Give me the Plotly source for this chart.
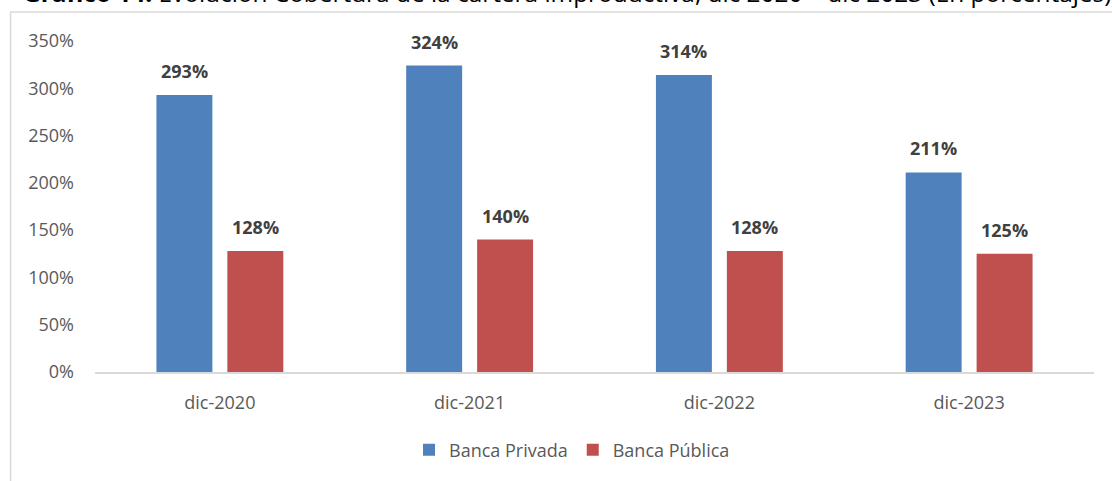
import plotly.graph_objects as go

categories = ["dic-2020", "dic-2021", "dic-2022", "dic-2023"]
banca_privada = [293, 324, 314, 211]
banca_publica = [128, 140, 128, 125]
series_names = ["Banca Privada", "Banca Pública"]
colors = ["#4F81BD", "#C0504D"]
y_ticks = [0, 50, 100, 150, 200, 250, 300, 350]
y_tick_labels = [f"{v}%" for v in y_ticks]
title_bold = "Gráfico 14:"
title_rest = " Evolución Cobertura de la cartera improductiva, dic 2020 – dic 2023 (En porcentajes)"

FONT = "Open Sans"

fig = go.Figure()
for name, vals, col in zip(series_names, [banca_privada, banca_publica], colors):
    fig.add_trace(go.Bar(x=categories, y=vals, name=name, marker=dict(color=col, line=dict(width=0))))

# data labels
slot = 35.5
annotations = []
for i, vals in enumerate([banca_privada, banca_publica]):
    shift = -slot if i == 0 else slot
    for c, v in zip(categories, vals):
        annotations.append(dict(x=c, y=v, xref="x", yref="y", text=f"<b>{v}%</b>",
                                showarrow=False, yanchor="bottom", xanchor="center",
                                xshift=shift, yshift=10,
                                font=dict(family=FONT, size=18, color="#404040")))

annotations.append(dict(xref="paper", yref="paper", x=-0.0745, y=1.091, xanchor="left", yanchor="bottom",
                        text=f"<b>{title_bold}</b>{title_rest}", showarrow=False,
                        font=dict(family=FONT, size=24.4, color="#000000")))

fig.update_layout(
    width=1112, height=481,
    margin=dict(l=94.5, r=17.5, t=40.5, b=108.5),
    paper_bgcolor="white", plot_bgcolor="white",
    barmode="group", bargap=0.432, bargroupgap=0.211,
    font=dict(family=FONT, color="#595959", size=18),
    showlegend=True,
    legend=dict(orientation="h", x=0.4775, xanchor="center", y=-0.236, yanchor="middle",
                font=dict(family=FONT, size=18, color="#595959"), itemwidth=30),
    annotations=annotations,
    shapes=[dict(type="rect", xref="paper", yref="paper",
                 x0=(10 - 94.5) / 1000, x1=(1130 - 94.5) / 1000,
                 y0=(372.5 - 500) / 332, y1=(372.5 - 11.5) / 332,
                 line=dict(color="#D9D9D9", width=1.5), fillcolor="rgba(0,0,0,0)", layer="below")],
)
fig.update_xaxes(showgrid=False, showline=True, linecolor="#D9D9D9", linewidth=1.5,
                 ticks="", tickfont=dict(family=FONT, size=18, color="#595959"),
                 ticklabelstandoff=14)
fig.update_yaxes(range=[0, 350], tickvals=y_ticks, ticktext=y_tick_labels, showgrid=False,
                 zeroline=False, showline=False, ticks="",
                 tickfont=dict(family=FONT, size=18, color="#595959"), ticklabelstandoff=20)

fig.write_html("out.html", config={"displayModeBar": False},
               post_script="document.body.style.margin='0';")
